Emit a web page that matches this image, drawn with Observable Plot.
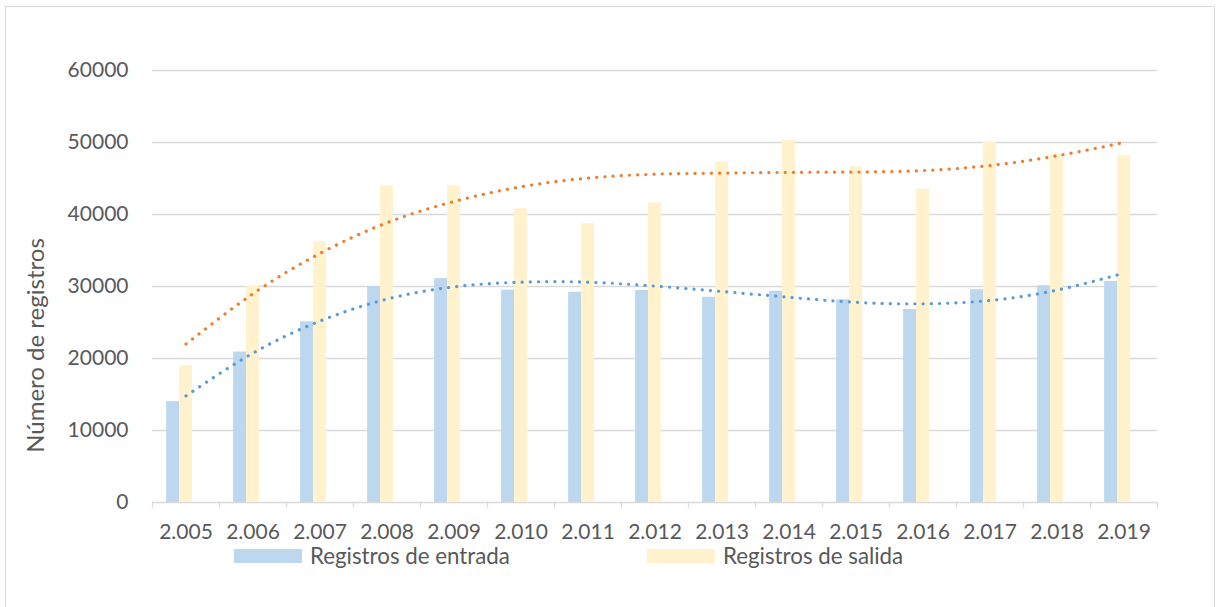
<!DOCTYPE html>
<html><head><meta charset="utf-8">
<script src="https://cdn.jsdelivr.net/npm/d3@7"></script>
<script src="https://cdn.jsdelivr.net/npm/@observablehq/plot@0.6"></script>
<style>
body{margin:0;background:#fff;font-family:Lato,"Open Sans",sans-serif;overflow:hidden;}
#frame{position:absolute;left:5px;top:6px;width:1210px;height:620px;border:1px solid #d9d9d9;box-sizing:border-box;}
#chart{position:absolute;left:0;top:0;}
#legend{position:absolute;top:544px;left:0;width:1216px;height:24px;font-size:22.3px;line-height:1;color:#595959;}
.item{position:absolute;top:0;display:flex;align-items:center;height:24px;white-space:nowrap;}
.sw{width:68px;height:14px;margin-right:8px;}
.tx{line-height:1;}
</style></head><body>
<div id="frame"></div>
<div id="chart"></div>
<div id="legend"></div>
<script>
// ---- data ----
const years = ["2.005","2.006","2.007","2.008","2.009","2.010","2.011","2.012","2.013","2.014","2.015","2.016","2.017","2.018","2.019"];
const entrada = [14000,20900,25100,30000,31100,29500,29200,29450,28500,29350,28150,26800,29550,30100,30700];
const salida  = [19000,30000,36200,44000,44000,40800,38750,41600,47300,50300,46600,43500,50000,48400,48200];
const entradaTrend = [14800,20750,25200,28250,29950,30600,30600,30050,29300,28500,27800,27600,28050,29500,31850];
const salidaTrend  = [22000,29000,34600,38850,41800,43850,45050,45600,45750,45850,45900,46100,46800,48150,50000];
const yTicks = [0,10000,20000,30000,40000,50000,60000];
const seriesNames = ["Registros de entrada","Registros de salida"];
const barColors = ["#BDD7EE","#FFF2CC"];
const trendColors = ["#5B9BD5","#ED7D31"];
const yTitle = "Número de registros";

// ---- layout ----
const W = 1216, H = 545, mL = 152, mR = 59, mT = 70, mB = 43;
const step = (W - mL - mR) / years.length;
const slot = step / (3 + 2.19);
const gapHalf = 2.19 * slot / 2;

const rows = (vals) => years.map((y, i) => ({year: y, value: vals[i]}));
const dEntrada = rows(entrada), dSalida = rows(salida);
const tEntrada = rows(entradaTrend), tSalida = rows(salidaTrend);

const chart = Plot.plot({
  width: W, height: H,
  marginLeft: mL, marginRight: mR, marginTop: mT, marginBottom: mB,
  style: {fontFamily: "Lato, 'Open Sans', sans-serif", fontSize: "21px", color: "#595959", background: "transparent"},
  x: {type: "band", domain: years, padding: 0},
  y: {domain: [0, 60000]},
  marks: [
    Plot.ruleY(yTicks, {stroke: "#d9d9d9", strokeWidth: 1.3}),
    Plot.ruleX(years, {x: d => d, dx: -step / 2, y1: 0, y2: -750, stroke: "#d9d9d9", strokeWidth: 1.3}),
    Plot.ruleX([years[years.length - 1]], {x: d => d, dx: step / 2, y1: 0, y2: -750, stroke: "#d9d9d9", strokeWidth: 1.3}),
    Plot.barY(dEntrada, {x: "year", y: "value", fill: barColors[0], insetLeft: gapHalf, insetRight: step - gapHalf - slot}),
    Plot.barY(dSalida, {x: "year", y: "value", fill: barColors[1], insetLeft: gapHalf + slot, insetRight: step - gapHalf - 2 * slot}),
    Plot.lineY(tEntrada, {x: "year", y: "value", curve: "natural", stroke: trendColors[0], strokeWidth: 3.2, strokeDasharray: "0.1,8.1", strokeLinecap: "round"}),
    Plot.lineY(tSalida, {x: "year", y: "value", curve: "natural", stroke: trendColors[1], strokeWidth: 3.2, strokeDasharray: "0.1,8.1", strokeLinecap: "round"}),
    Plot.axisY({ticks: yTicks, tickSize: 0, tickPadding: 24, tickFormat: d => String(d), label: null}),
    Plot.axisX({tickSize: 0, tickPadding: 22, label: null}),
    Plot.text([yTitle], {frameAnchor: "left", textAnchor: "middle", dx: -116, dy: 59, rotate: -90, text: d => d, fill: "#595959", fontSize: 24})
  ]
});
document.getElementById("chart").appendChild(chart);

// ---- legend ----
const legend = document.getElementById("legend");
const legendLeft = [234, 647];
seriesNames.forEach((name, i) => {
  const it = document.createElement("div");
  it.className = "item";
  it.style.left = legendLeft[i] + "px";
  const sw = document.createElement("span");
  sw.className = "sw";
  sw.style.background = barColors[i];
  const tx = document.createElement("span");
  tx.className = "tx";
  tx.textContent = name;
  it.appendChild(sw); it.appendChild(tx);
  legend.appendChild(it);
});
</script>
</body></html>
